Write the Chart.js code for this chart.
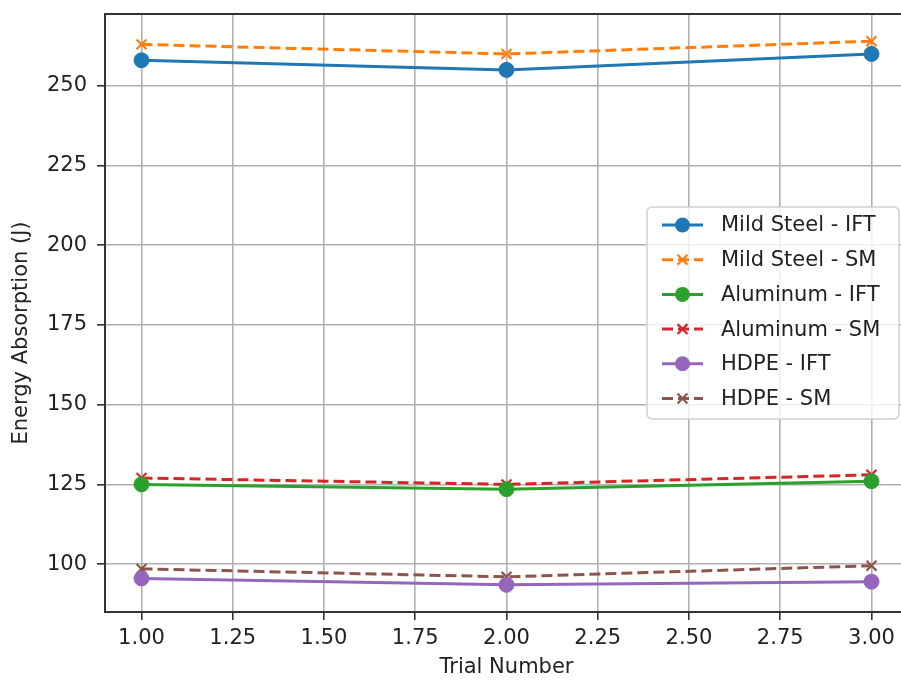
<!DOCTYPE html>
<html>
<head>
<meta charset="utf-8">
<script src="https://cdn.jsdelivr.net/npm/chart.js@4/dist/chart.umd.min.js"></script>
<style>
  html, body { margin: 0; padding: 0; background: #fff; overflow: hidden; width: 901px; height: 680px; }
  #c { position: absolute; left: 0; top: 0; }
</style>
</head>
<body>
<canvas id="c" width="930" height="680"></canvas>
<script>
// ---- data ----
const trials = [1, 2, 3];
const mildSteelIFT = [258, 255, 260];
const mildSteelSM  = [263, 260, 264];
const aluminumIFT  = [125, 123.5, 126];
const aluminumSM   = [127, 125, 128];
const hdpeIFT      = [95.5, 93.5, 94.5];
const hdpeSM       = [98.5, 96, 99.5];
const seriesLabels = ['Mild Steel - IFT', 'Mild Steel - SM', 'Aluminum - IFT', 'Aluminum - SM', 'HDPE - IFT', 'HDPE - SM'];
const xTicks = [1.00, 1.25, 1.50, 1.75, 2.00, 2.25, 2.50, 2.75, 3.00];
const yTicks = [100, 125, 150, 175, 200, 225, 250];
const xTitle = 'Trial Number';
const yTitle = 'Energy Absorption (J)';

const FONT = 'DejaVu Sans';
const FS = 21;
const colors = ['#1f77b4', '#ff7f0e', '#2ca02c', '#d62728', '#9467bd', '#8c564b'];
const allSeries = [mildSteelIFT, mildSteelSM, aluminumIFT, aluminumSM, hdpeIFT, hdpeSM];

function pts(arr) { return trials.map((t, i) => ({ x: t, y: arr[i] })); }

const datasets = allSeries.map((s, i) => {
  const isSM = i % 2 === 1;
  return {
    label: seriesLabels[i],
    data: pts(s),
    borderColor: colors[i],
    backgroundColor: colors[i],
    borderWidth: 3,
    borderDash: isSM ? [11, 5] : [],
    pointStyle: isSM ? 'crossRot' : 'circle',
    pointRadius: isSM ? 7 : 7.5,
    pointBorderWidth: isSM ? 2.2 : 1,
    pointBorderColor: colors[i],
    pointBackgroundColor: colors[i],
    tension: 0,
    fill: false
  };
});

// matplotlib-like 5% margins
const allY = allSeries.flat();
const yMinD = Math.min(...allY), yMaxD = Math.max(...allY);
const yPad = (yMaxD - yMinD) * 0.05;
const xPad = (Math.max(...trials) - Math.min(...trials)) * 0.05;

const framePlugin = {
  id: 'frame',
  afterDatasetsDraw(chart) {
    const a = chart.chartArea, ctx = chart.ctx;
    ctx.save();
    ctx.strokeStyle = '#333';
    ctx.lineWidth = 2;
    ctx.strokeRect(a.left, a.top, a.right - a.left, a.bottom - a.top);
    // y axis title
    ctx.translate(22, 333);
    ctx.rotate(-Math.PI / 2);
    ctx.fillStyle = '#222';
    ctx.font = FS + 'px "' + FONT + '"';
    ctx.textAlign = 'center';
    ctx.textBaseline = 'middle';
    ctx.fillText(yTitle, 0, 0);
    ctx.restore();
  }
};

const legendPlugin = {
  id: 'mplLegend',
  afterDraw(chart) {
    const ctx = chart.ctx;
    const bx = 647, by = 207, bw = 252, bh = 212, r = 5;
    ctx.save();
    ctx.beginPath();
    ctx.roundRect(bx, by, bw, bh, r);
    ctx.fillStyle = 'rgba(255,255,255,0.8)';
    ctx.fill();
    ctx.strokeStyle = '#d0d0d0';
    ctx.lineWidth = 1.5;
    ctx.stroke();
    const rowH = 34.7;
    chart.data.datasets.forEach((ds, i) => {
      const y = by + 18 + i * rowH;
      const x0 = bx + 15, x1 = bx + 56, xm = (x0 + x1) / 2;
      ctx.beginPath();
      ctx.setLineDash(ds.borderDash || []);
      ctx.strokeStyle = ds.borderColor;
      ctx.lineWidth = ds.borderWidth;
      ctx.moveTo(x0, y); ctx.lineTo(x1, y);
      ctx.stroke();
      ctx.setLineDash([]);
      ctx.fillStyle = ds.pointBackgroundColor;
      ctx.strokeStyle = ds.pointBorderColor;
      ctx.lineWidth = ds.pointBorderWidth;
      ctx.beginPath();
      if (ds.pointStyle === 'circle') {
        ctx.arc(xm, y, ds.pointRadius, 0, Math.PI * 2);
        ctx.fill();
      } else {
        const d = ds.pointRadius * Math.SQRT1_2;
        ctx.moveTo(xm - d, y - d); ctx.lineTo(xm + d, y + d);
        ctx.moveTo(xm + d, y - d); ctx.lineTo(xm - d, y + d);
        ctx.stroke();
      }
      ctx.fillStyle = '#222';
      ctx.font = FS + 'px "' + FONT + '"';
      ctx.textBaseline = 'middle';
      ctx.textAlign = 'left';
      ctx.fillText(ds.label, bx + 74, y + 1);
    });
    ctx.restore();
  }
};

new Chart(document.getElementById('c'), {
  type: 'line',
  data: { datasets },
  options: {
    responsive: false,
    devicePixelRatio: 1,
    animation: false,
    layout: { padding: { top: 14, right: 22, left: 0, bottom: 0 } },
    plugins: { legend: { display: false }, tooltip: { enabled: false }, title: { display: false } },
    scales: {
      x: {
        type: 'linear',
        min: Math.min(...trials) - xPad,
        max: Math.max(...trials) + xPad,
        afterBuildTicks(s) { s.ticks = xTicks.map(v => ({ value: v })); },
        afterFit(s) { s.height = 68; s.paddingLeft = 0; s.paddingRight = 0; },
        ticks: {
          callback: v => Number(v).toFixed(2),
          font: { family: FONT, size: FS },
          color: '#222',
          padding: 6,
          maxRotation: 0,
          autoSkip: false
        },
        grid: { color: '#b0b0b0', lineWidth: 1.6, tickLength: 8, tickColor: '#333', tickWidth: 1.6 },
        border: { display: true, color: '#333', width: 2 },
        title: { display: true, text: xTitle, font: { family: FONT, size: FS }, color: '#222', padding: { top: 0, bottom: 0 } }
      },
      y: {
        type: 'linear',
        min: yMinD - yPad,
        max: yMaxD + yPad,
        afterBuildTicks(s) { s.ticks = yTicks.map(v => ({ value: v })); },
        afterFit(s) { s.width = 105; s.paddingTop = 0; s.paddingBottom = 0; },
        ticks: {
          font: { family: FONT, size: FS },
          color: '#222',
          padding: 10,
          autoSkip: false
        },
        grid: { color: '#b0b0b0', lineWidth: 1.6, tickLength: 8, tickColor: '#333', tickWidth: 1.6 },
        border: { display: true, color: '#333', width: 2 },
        title: { display: false }
      }
    }
  },
  plugins: [framePlugin, legendPlugin]
});
</script>
</body>
</html>
